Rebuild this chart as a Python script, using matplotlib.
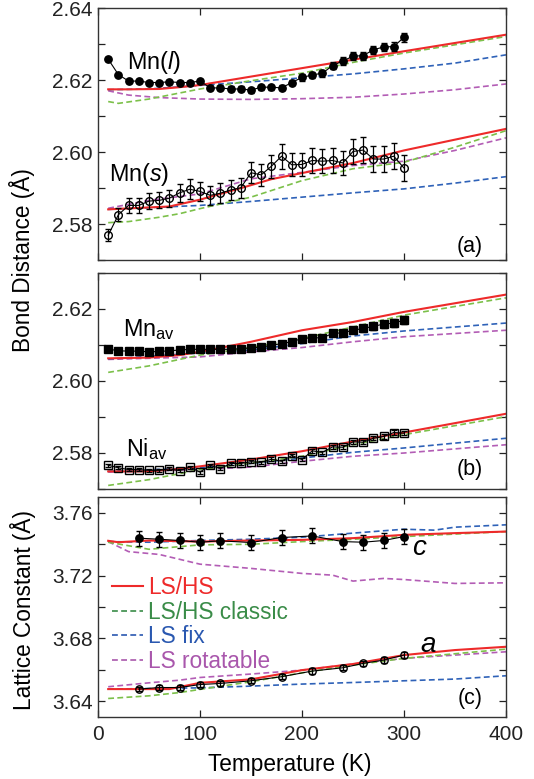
import numpy as np
import matplotlib
matplotlib.use("Agg")
import matplotlib.pyplot as plt
from matplotlib.lines import Line2D
from matplotlib.ticker import MultipleLocator

plt.rcParams["font.family"] = ["Liberation Sans", "DejaVu Sans"]
plt.rcParams["mathtext.fontset"] = "custom"
plt.rcParams["mathtext.rm"] = "Liberation Sans"
plt.rcParams["mathtext.it"] = "Liberation Sans:italic"

# measured temperatures
temp_bond = np.arange(10, 301, 10)
temp_latt = [40, 60, 80, 100, 120, 150, 180, 210, 240, 260, 280, 300]

# (a) Mn-Mn bond distances
mn_l = [2.6259, 2.6216, 2.6198, 2.6198, 2.6194, 2.6194, 2.6196, 2.6194, 2.6194, 2.6198,
        2.6179, 2.6179, 2.6176, 2.6176, 2.6173, 2.6181, 2.6181, 2.6179, 2.6194, 2.6208,
        2.6215, 2.6220, 2.6241, 2.6254, 2.6267, 2.6269, 2.6285, 2.6293, 2.6294, 2.6320]
mn_l_err = [0.0005] * 10 + [0.0007] * 8 + [0.0008, 0.0009, 0.0009, 0.001, 0.001, 0.0011,
                                           0.0011, 0.0011, 0.0012, 0.0012, 0.0012, 0.0013]
mn_s = [2.5769, 2.5826, 2.5852, 2.5852, 2.5864, 2.5866, 2.5872, 2.5887, 2.5897, 2.5891,
        2.5880, 2.5886, 2.5895, 2.5901, 2.5943, 2.5937, 2.5961, 2.5989, 2.5965, 2.5966,
        2.5977, 2.5975, 2.5977, 2.5970, 2.6002, 2.6006, 2.5981, 2.5981, 2.5989, 2.5956]
mn_s_err = [0.0016, 0.0018, 0.002, 0.002, 0.0022, 0.0022, 0.0024, 0.0025, 0.0028, 0.0027,
            0.0027, 0.0027, 0.0028, 0.0028, 0.003, 0.003, 0.0032, 0.0035, 0.0032, 0.0032,
            0.0034, 0.0034, 0.0034, 0.0034, 0.0035, 0.0036, 0.0036, 0.0036, 0.0036, 0.0036]

# (b) averaged bond distances
mn_av = [2.6088, 2.6083, 2.6082, 2.6082, 2.6080, 2.6081, 2.6083, 2.6085, 2.6087, 2.6087,
         2.6087, 2.6087, 2.6087, 2.6089, 2.6091, 2.6093, 2.6098, 2.6103, 2.6108, 2.6117,
         2.6119, 2.6119, 2.6131, 2.6133, 2.6140, 2.6145, 2.6151, 2.6157, 2.6160, 2.6168]
mn_av_err = [0.0002] * 10 + [0.0003] * 6 + [0.0004, 0.0005, 0.0005, 0.0006, 0.0006, 0.0007,
                                            0.0007, 0.0008, 0.0008, 0.0009, 0.0009, 0.001,
                                            0.001, 0.0011]
ni_av = [2.5765, 2.5758, 2.5753, 2.5753, 2.5751, 2.5751, 2.5755, 2.5750, 2.5760, 2.5746,
         2.5765, 2.5756, 2.5770, 2.5770, 2.5775, 2.5773, 2.5782, 2.5776, 2.5792, 2.5781,
         2.5805, 2.5801, 2.5816, 2.5815, 2.5830, 2.5829, 2.5840, 2.5845, 2.5856, 2.5854]
ni_av_err = [0.0004] * 15 + [0.0005] * 10 + [0.0006] * 5

# (c) lattice constants
latt_c = [3.7439, 3.7432, 3.7424, 3.7413, 3.7422, 3.7411, 3.7443, 3.7453, 3.7417, 3.7413,
          3.7424, 3.7449]
latt_c_err = [0.0048] * 12
latt_a = [3.6476, 3.6486, 3.6486, 3.6505, 3.6512, 3.6529, 3.6555, 3.6591, 3.6612, 3.6640,
          3.6661, 3.6693]
latt_a_err = [0.0015, 0.0015, 0.0015, 0.0015, 0.0015, 0.0016, 0.0016, 0.0017, 0.0017,
              0.0018, 0.0018, 0.002]

# calculated curves: (temperatures, values) per model
calc_a_upper = {
    "LS/HS": ([10, 30, 60, 80, 100, 200, 300, 400],
              [2.6175, 2.6175, 2.6176, 2.6181, 2.6187, 2.6234, 2.6281, 2.6327]),
    "LS/HS classic": ([10, 20, 50, 100, 150, 200, 250, 300, 400],
                      [2.6141, 2.6136, 2.6148, 2.6176, 2.6199, 2.6220, 2.6250, 2.6276, 2.6322]),
    "LS fix": ([10, 50, 100, 150, 200, 250, 300, 350, 400],
               [2.6174, 2.6176, 2.6186, 2.6196, 2.6207, 2.6218, 2.6232, 2.6248, 2.6271]),
    "LS rotatable": ([10, 30, 60, 100, 150, 200, 250, 300, 350, 400],
                     [2.6171, 2.6159, 2.6152, 2.6148, 2.6147, 2.6149, 2.6153, 2.6162, 2.6174, 2.6190]),
}
calc_a_lower = {
    "LS/HS": ([10, 70, 100, 140, 170, 200, 250, 300, 400],
              [2.5841, 2.5849, 2.5868, 2.5900, 2.5925, 2.5942, 2.5970, 2.6005, 2.6065]),
    "LS/HS classic": ([10, 30, 60, 80, 100, 150, 200, 250, 300, 350, 400],
                      [2.5804, 2.5807, 2.5819, 2.5829, 2.5843, 2.5875, 2.5921, 2.5954, 2.5972, 2.6014, 2.6060]),
    "LS fix": ([10, 60, 100, 150, 200, 250, 300, 350, 400],
               [2.5841, 2.5847, 2.5852, 2.5863, 2.5875, 2.5887, 2.5898, 2.5914, 2.5932]),
    "LS rotatable": ([10, 50, 100, 150, 200, 250, 300, 350, 400],
                     [2.5844, 2.5866, 2.5884, 2.5926, 2.5944, 2.5963, 2.5975, 2.6005, 2.6040]),
}
calc_b_upper = {
    "LS/HS": ([10, 50, 80, 100, 150, 200, 250, 300, 400],
              [2.6062, 2.6064, 2.6071, 2.6080, 2.6108, 2.6140, 2.6163, 2.6191, 2.6239]),
    "LS/HS classic": ([10, 50, 100, 150, 200, 250, 300, 400],
                      [2.6023, 2.6041, 2.6071, 2.6092, 2.6117, 2.6149, 2.6182, 2.6230]),
    "LS fix": ([10, 100, 150, 200, 250, 300, 400],
               [2.6060, 2.6077, 2.6085, 2.6103, 2.6124, 2.6138, 2.6160]),
    "LS rotatable": ([10, 100, 150, 200, 250, 300, 400],
                     [2.6059, 2.6066, 2.6080, 2.6092, 2.6108, 2.6122, 2.6140]),
}
calc_b_lower = {
    "LS/HS": ([10, 50, 80, 100, 150, 200, 250, 300, 400],
              [2.5748, 2.5748, 2.5755, 2.5762, 2.5781, 2.5804, 2.5831, 2.5856, 2.5908]),
    "LS/HS classic": ([10, 50, 100, 150, 200, 250, 300, 400],
                      [2.5709, 2.5725, 2.5753, 2.5771, 2.5790, 2.5822, 2.5850, 2.5900]),
    "LS fix": ([10, 100, 150, 200, 250, 300, 400],
               [2.5748, 2.5758, 2.5770, 2.5785, 2.5801, 2.5813, 2.5840]),
    "LS rotatable": ([10, 100, 150, 200, 250, 300, 400],
                     [2.5746, 2.5753, 2.5760, 2.5776, 2.5790, 2.5799, 2.5822]),
}
calc_c_upper = {
    "LS/HS": ([10, 20, 50, 100, 150, 200, 250, 300, 350, 400],
              [3.7422, 3.7413, 3.7424, 3.7417, 3.7424, 3.7428, 3.7439, 3.7460, 3.7471, 3.7481]),
    "LS/HS classic": ([10, 50, 100, 150, 200, 250, 300, 400],
                      [3.7413, 3.7368, 3.7396, 3.7400, 3.7417, 3.7432, 3.7449, 3.7481]),
    "LS fix": ([10, 50, 100, 150, 200, 250, 300, 330, 350, 400],
               [3.7417, 3.7413, 3.7424, 3.7432, 3.7445, 3.7471, 3.7496, 3.7490, 3.7509, 3.7524]),
    "LS rotatable": ([10, 30, 60, 100, 150, 200, 230, 250, 280, 300, 350, 400],
                     [3.7417, 3.7353, 3.7335, 3.7273, 3.7246, 3.7214, 3.7203, 3.7165, 3.7182,
                      3.7175, 3.7150, 3.7154]),
}
calc_c_lower = {
    "LS/HS": ([10, 70, 100, 150, 200, 250, 300, 350, 400],
              [3.6476, 3.6476, 3.6516, 3.6538, 3.6597, 3.6636, 3.6693, 3.6725, 3.6746]),
    "LS/HS classic": ([10, 50, 80, 100, 150, 200, 250, 300, 400],
                      [3.6416, 3.6433, 3.6454, 3.6474, 3.6523, 3.6580, 3.6629, 3.6672, 3.6731]),
    "LS fix": ([10, 100, 150, 200, 250, 300, 350, 400],
               [3.6476, 3.6484, 3.6495, 3.6508, 3.6518, 3.6529, 3.6540, 3.6561]),
    "LS rotatable": ([10, 50, 80, 100, 150, 200, 250, 300, 400],
                     [3.6491, 3.6516, 3.6533, 3.6550, 3.6572, 3.6597, 3.6636, 3.6672, 3.6714]),
}

model_names = ["LS/HS", "LS/HS classic", "LS fix", "LS rotatable"]
line_style = {
    "LS/HS": dict(color="#ee2a2a", ls="-", lw=1.5),
    "LS/HS classic": dict(color="#7cc04a", ls=(0, (3.5, 2)), lw=1.2),
    "LS fix": dict(color="#2f62b8", ls=(0, (3.5, 2)), lw=1.2),
    "LS rotatable": dict(color="#b35db5", ls=(0, (3.5, 2)), lw=1.2),
}
legend_color = {
    "LS/HS": "#ee2a2a",
    "LS/HS classic": "#3a8c48",
    "LS fix": "#2a58b0",
    "LS rotatable": "#a957ac",
}
draw_order = ["LS rotatable", "LS fix", "LS/HS classic", "LS/HS"]

FS = 15
LABEL_FS = 16.3


def draw_calc(ax, curves):
    for name in draw_order:
        t, v = curves[name]
        ax.plot(t, v, zorder=2, **line_style[name])


def draw_data(ax, t, v, err, marker, filled, ms):
    ax.errorbar(t, v, yerr=err, fmt=marker, color="black", ms=ms,
                mfc="black" if filled else "none", mec="black", mew=1.0,
                ecolor="black", elinewidth=0.9, capsize=2.5, capthick=0.9,
                ls="-", lw=0.8, zorder=4)


def style_axis(ax, ylim, major, minor):
    ax.set_xlim(0, 400)
    ax.set_ylim(*ylim)
    ax.xaxis.set_major_locator(MultipleLocator(100))
    ax.yaxis.set_major_locator(MultipleLocator(major))
    ax.yaxis.set_minor_locator(MultipleLocator(minor))
    ax.tick_params(which="both", direction="in", top=True, right=True,
                   labelsize=FS, length=5, width=0.9, colors="#222222")
    ax.tick_params(axis="y", pad=4)
    ax.tick_params(axis="x", pad=6)
    for sp in ax.spines.values():
        sp.set_linewidth(1.0)
        sp.set_color("#333333")


fig = plt.figure(figsize=(5.34, 7.79), dpi=100)
ax_a = fig.add_axes([0.1835, 0.6662, 0.764, 0.3229])
ax_b = fig.add_axes([0.1835, 0.3727, 0.764, 0.2773])
ax_c = fig.add_axes([0.1835, 0.0800, 0.764, 0.2817])

# (a)
draw_calc(ax_a, calc_a_upper)
draw_calc(ax_a, calc_a_lower)
draw_data(ax_a, temp_bond, mn_l, mn_l_err, "o", True, 5.3)
draw_data(ax_a, temp_bond, mn_s, mn_s_err, "o", False, 5.5)
style_axis(ax_a, (2.57, 2.64), 0.02, 0.01)
ax_a.set_yticks([2.58, 2.60, 2.62, 2.64])
ax_a.tick_params(labelbottom=False)
ax_a.text(28, 2.625, r"Mn($\mathit{l}$)", fontsize=16.8, va="center")
ax_a.text(11, 2.5939, r"Mn($\mathit{s}$)", fontsize=16.8, va="center")
ax_a.text(377, 2.5739, "(a)", fontsize=15.5, va="center", ha="right")

# (b)
draw_calc(ax_b, calc_b_upper)
draw_calc(ax_b, calc_b_lower)
draw_data(ax_b, temp_bond, mn_av, mn_av_err, "s", True, 5.5)
draw_data(ax_b, temp_bond, ni_av, ni_av_err, "s", False, 5.3)
style_axis(ax_b, (2.57, 2.63), 0.02, 0.01)
ax_b.set_yticks([2.58, 2.60, 2.62])
ax_b.tick_params(labelbottom=False)
ax_b.text(24.5, 2.6123, r"Mn$_{\mathregular{av}}$", fontsize=16.8, va="baseline")
ax_b.text(27.5, 2.5791, r"Ni$_{\mathregular{av}}$", fontsize=16.8, va="baseline")
ax_b.text(377, 2.5754, "(b)", fontsize=15.5, va="center", ha="right")

# (c)
draw_calc(ax_c, calc_c_upper)
draw_calc(ax_c, calc_c_lower)
draw_data(ax_c, temp_latt, latt_c, latt_c_err, "o", True, 5.3)
draw_data(ax_c, temp_latt, latt_a, latt_a_err, "o", False, 5.3)
style_axis(ax_c, (3.63, 3.77), 0.04, 0.02)
ax_c.set_yticks([3.64, 3.68, 3.72, 3.76])
ax_c.text(308, 3.7376, "c", fontsize=20, style="italic", va="center")
ax_c.text(316, 3.6756, "a", fontsize=20, style="italic", va="center")
ax_c.text(377, 3.6418, "(c)", fontsize=15.5, va="center", ha="right")

handles = []
for name in model_names:
    st = dict(line_style[name])
    st["color"] = legend_color[name]
    handles.append(Line2D([], [], **st))
leg = ax_c.legend(handles, model_names,
                  loc="upper left", bbox_to_anchor=(0.035, 0.641), frameon=False,
                  fontsize=LABEL_FS, handlelength=1.35, handletextpad=0.22,
                  labelspacing=0.07, borderpad=0, borderaxespad=0)
for txt, name in zip(leg.get_texts(), model_names):
    txt.set_color(legend_color[name])

fig.text(22 / 534, 1 - 260 / 779, "Bond Distance (Å)", rotation=90,
         fontsize=LABEL_FS, ha="center", va="center")
fig.text(23 / 534, 1 - 610 / 779, "Lattice Constant (Å)", rotation=90,
         fontsize=LABEL_FS, ha="center", va="center")
fig.text(290 / 534, 1 - 764 / 779, "Temperature (K)", fontsize=LABEL_FS,
         ha="center", va="center")

fig.savefig("out.png", dpi=100)
